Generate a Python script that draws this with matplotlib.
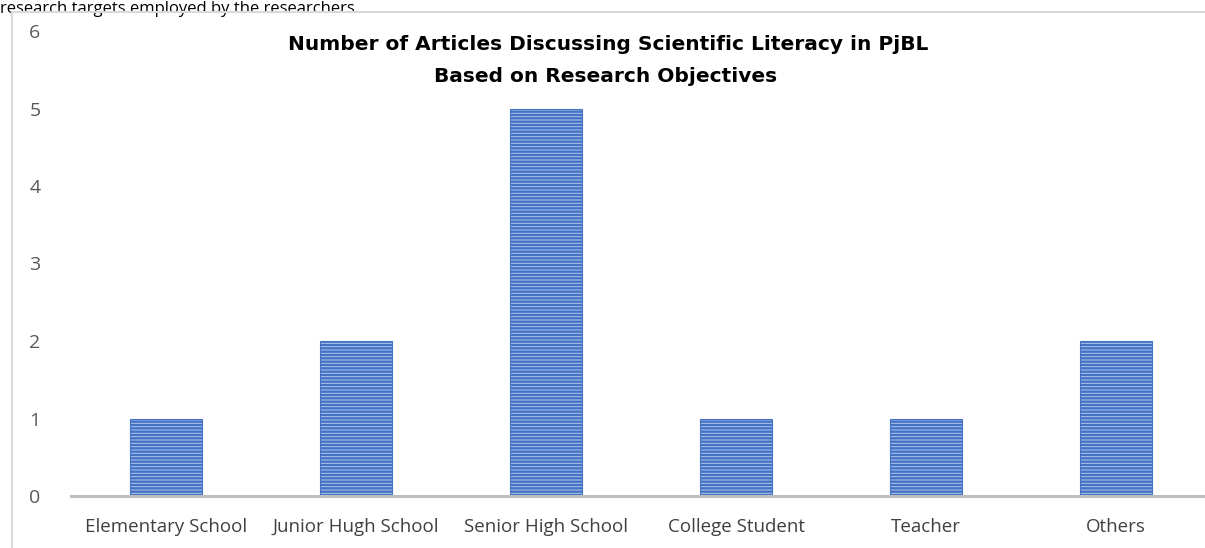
import matplotlib
matplotlib.use("Agg")
import matplotlib.pyplot as plt
from matplotlib.patches import Rectangle

categories = ["Elementary School", "Junior Hugh School", "Senior High School",
              "College Student", "Teacher", "Others"]
counts = [1, 2, 5, 1, 1, 2]
yticks = [0, 1, 2, 3, 4, 5, 6]
title_lines = ["Number of Articles Discussing Scientific Literacy in PjBL",
               "Based on Research Objectives"]
caption_above = "research targets employed by the researchers."

plt.rcParams['font.family'] = ['Open Sans', 'DejaVu Sans']
plt.rcParams['hatch.linewidth'] = 1.7

W, H = 1205, 548
fig = plt.figure(figsize=(W / 100, H / 100), dpi=100)

# chart border (from the embedding document)
border = Rectangle((12 / W, -0.05), 1.2, 1.05 - 12 / H, transform=fig.transFigure,
                   facecolor='none', edgecolor='#D9D9D9', linewidth=1.5, zorder=5)
fig.add_artist(border)

# text line above the chart
fig.text(0.0, 1 - 1 / H, caption_above, fontsize=12, color='black',
         ha='left', va='top')

ax = fig.add_axes([71 / W, 52 / H, 1140 / W, 465 / H])
ax.set_facecolor('none')
x = list(range(len(categories)))
ax.bar(x, counts, width=0.38, color='#B3C6EA', edgecolor='#4472C4',
       hatch='-----', linewidth=0.8, zorder=2)
ax.set_xlim(-0.5, len(categories) - 0.5)
ax.set_ylim(0, 6)
ax.set_yticks(yticks)
ax.set_yticklabels([str(v) for v in yticks])
ax.set_xticks(x)
ax.set_xticklabels(categories)
ax.tick_params(axis='y', length=0, pad=22, labelsize=14, labelcolor='#595959')
ax.tick_params(axis='x', length=0, pad=16, labelsize=13.5, labelcolor='#404040')
for s in ['top', 'right', 'left']:
    ax.spines[s].set_visible(False)
ax.spines['bottom'].set_color('#BFBFBF')
ax.spines['bottom'].set_linewidth(2.2)
ax.spines['bottom'].set_zorder(3)

fig.text(608 / W, 1 - 45 / H, title_lines[0], fontsize=14.5, fontweight='bold',
         family='DejaVu Sans', ha='center', va='center', color='black')
fig.text(606 / W, 1 - 77 / H, title_lines[1], fontsize=14.5, fontweight='bold',
         family='DejaVu Sans', ha='center', va='center', color='black')

fig.savefig("out.png", dpi=100)
